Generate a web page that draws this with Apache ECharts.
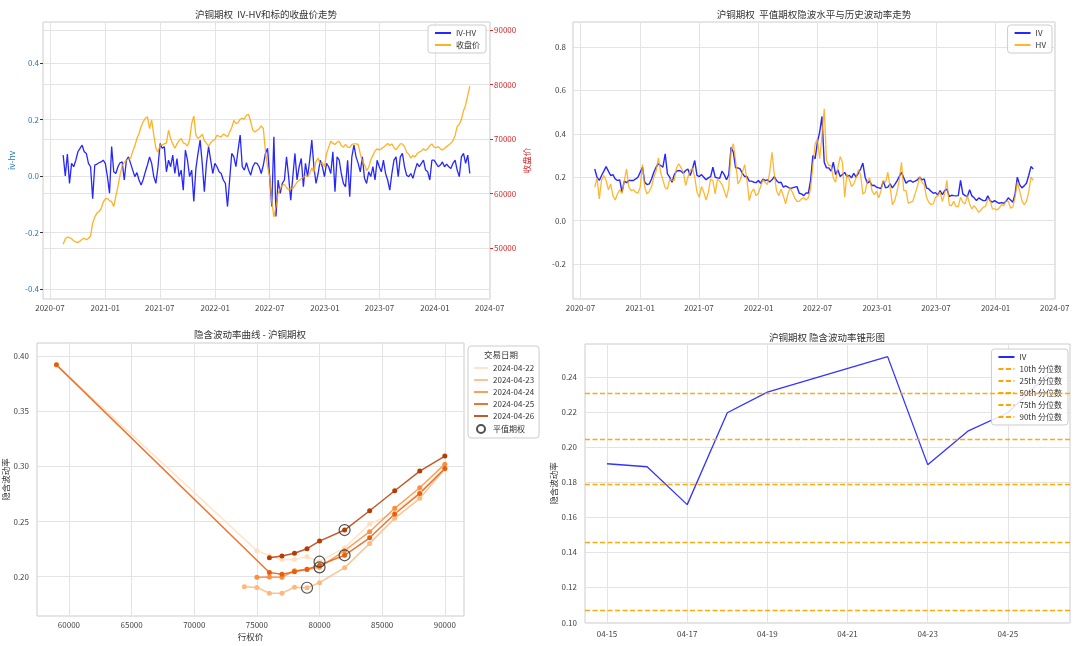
<!DOCTYPE html>
<html><head><meta charset="utf-8">
<script src="https://cdn.jsdelivr.net/npm/echarts@6/dist/echarts.min.js"></script>
<style>html,body{margin:0;padding:0;background:#fff}#c{width:1080px;height:646px}</style>
</head><body><div id="c"></div>
<script>
const FONT = '"Noto Sans CJK SC", "Noto Sans", sans-serif';

// ---- Top charts: weekly samples (Fridays), first sample 2020-08-14 ----
const weekStartUTC = Date.UTC(2020, 7, 14);
const ivHv = [
 0.074,0.0,0.078,-0.026,0.045,0.033,0.056,0.086,0.098,0.109,
 0.086,0.08,0.045,0.033,-0.08,0.039,0.042,0.047,0.05,0.056,
 0.045,-0.002,-0.061,0.104,0.015,0.009,0.033,0.047,0.05,-0.014,
 0.056,0.068,0.045,0.021,-0.002,0.012,-0.014,-0.032,-0.012,0.015,
 0.039,0.068,0.045,-0.002,-0.026,0.033,0.115,0.098,0.104,0.015,
 0.056,0.033,0.074,0.009,0.062,-0.002,0.021,-0.05,0.092,0.056,
 -0.002,0.021,-0.09,0.027,0.08,0.127,0.045,-0.055,0.045,0.104,
 0.056,0.009,0.045,0.033,0.015,0.009,-0.014,-0.026,-0.108,-0.014,
 0.08,0.068,0.033,0.092,0.145,0.033,0.021,0.047,0.021,0.003,
 0.033,0.047,0.045,0.033,0.009,0.039,0.08,0.098,-0.002,-0.108,
 0.139,-0.143,-0.014,-0.061,-0.026,-0.014,0.068,-0.002,-0.085,-0.002,
 0.08,-0.014,0.033,0.062,-0.038,0.045,-0.002,0.056,0.127,0.033,
 -0.026,0.009,0.056,0.033,-0.002,0.045,0.033,0.009,0.086,-0.055,
 0.068,0.056,0.009,-0.026,-0.038,0.056,-0.073,0.068,0.109,0.068,
 0.045,0.015,0.068,-0.008,-0.026,0.015,-0.002,0.033,-0.014,0.056,
 0.033,0.015,0.056,0.009,-0.014,-0.05,0.009,0.056,0.068,-0.002,
 0.068,0.08,0.033,0.003,-0.002,0.009,-0.008,0.021,0.045,0.033,
 0.045,0.056,0.021,0.015,-0.014,0.056,0.056,0.045,0.033,0.039,
 0.05,0.033,0.042,0.033,0.027,0.045,0.056,0.021,-0.002,0.068,
 0.08,0.045,0.074,0.009
];
const closePrice = [
 50700,51700,52000,51900,51700,51300,51100,51000,51300,51600,
 51800,51500,51800,52200,54600,55700,56400,56700,57200,58400,
 59000,59100,58700,58500,57600,59500,61300,63400,65100,65700,
 66100,66300,66500,67700,68700,70100,71000,72300,73200,73800,
 74100,71900,73500,70700,68300,67600,68900,68900,69100,69300,
 71600,70100,69100,68300,69100,69700,70100,69300,69100,68700,
 69800,72900,74200,70700,70100,70400,70900,69700,69200,68700,
 69300,69700,69900,70700,70500,70400,70900,70700,70400,71300,
 72100,73400,72800,73000,73600,73800,73700,74400,74500,73200,
 71600,71300,71600,71900,72400,71900,67700,64900,63100,58500,
 55700,57600,60000,60900,61500,61700,61100,60700,60900,60900,
 61500,62100,62400,62700,63000,63300,63100,63700,64700,63900,
 65900,66500,65400,65700,64900,67300,68500,69600,69200,69000,
 69400,69600,68800,68500,69000,68500,68400,69000,69100,69100,
 69000,67300,65900,65300,64200,64800,66200,67000,67800,68200,
 68000,68200,68500,68800,69200,68800,69100,68400,68000,68600,
 69100,69100,68600,67600,67200,66500,67000,66700,67300,67600,
 67800,68200,67900,68200,68800,69100,68500,68400,68600,68200,
 68000,68300,68600,68900,69200,69700,70600,72300,72700,73600,
 75200,76200,78000,79700
];
const ivLevel = [
 0.238,0.2,0.185,0.208,0.228,0.249,0.228,0.208,0.212,0.192,
 0.185,0.188,0.131,0.182,0.175,0.185,0.185,0.185,0.192,0.2,
 0.223,0.246,0.177,0.166,0.169,0.192,0.223,0.246,0.262,0.254,
 0.246,0.308,0.215,0.2,0.177,0.212,0.228,0.231,0.228,0.218,
 0.231,0.238,0.208,0.238,0.277,0.208,0.203,0.212,0.2,0.188,
 0.197,0.203,0.246,0.2,0.197,0.195,0.228,0.212,0.188,0.212,
 0.338,0.315,0.243,0.243,0.238,0.218,0.203,0.203,0.182,0.182,
 0.177,0.175,0.185,0.172,0.191,0.185,0.188,0.178,0.188,0.203,
 0.185,0.175,0.177,0.154,0.16,0.154,0.148,0.151,0.154,0.157,
 0.126,0.123,0.115,0.128,0.126,0.185,0.3,0.285,0.362,0.408,
 0.48,0.269,0.243,0.243,0.228,0.269,0.212,0.234,0.203,0.212,
 0.222,0.203,0.209,0.197,0.218,0.2,0.218,0.238,0.265,0.2,
 0.172,0.182,0.162,0.163,0.154,0.151,0.148,0.182,0.151,0.154,
 0.169,0.151,0.166,0.182,0.203,0.223,0.197,0.172,0.182,0.185,
 0.177,0.182,0.188,0.2,0.188,0.192,0.151,0.146,0.135,0.126,
 0.129,0.118,0.138,0.12,0.138,0.146,0.111,0.117,0.115,0.114,
 0.115,0.185,0.123,0.115,0.111,0.142,0.114,0.105,0.092,0.105,
 0.098,0.092,0.092,0.114,0.092,0.085,0.092,0.085,0.08,0.083,
 0.08,0.089,0.105,0.095,0.085,0.123,0.2,0.166,0.151,0.16,
 0.172,0.208,0.249,0.238
];
const hvLevel = [
 0.154,0.197,0.1,0.188,0.208,0.185,0.142,0.169,0.115,0.095,
 0.123,0.142,0.126,0.182,0.238,0.154,0.138,0.142,0.131,0.126,
 0.154,0.258,0.154,0.123,0.135,0.157,0.2,0.228,0.289,0.223,
 0.188,0.151,0.146,0.192,0.185,0.185,0.243,0.262,0.243,0.223,
 0.162,0.2,0.231,0.243,0.2,0.131,0.108,0.157,0.131,0.095,
 0.131,0.192,0.185,0.123,0.191,0.182,0.166,0.138,0.105,0.154,
 0.323,0.354,0.277,0.169,0.185,0.223,0.258,0.185,0.092,0.131,
 0.146,0.115,0.126,0.157,0.188,0.177,0.166,0.223,0.315,0.215,
 0.138,0.115,0.146,0.115,0.077,0.123,0.151,0.131,0.105,0.089,
 0.089,0.1,0.105,0.095,0.105,0.146,0.254,0.354,0.377,0.285,
 0.392,0.515,0.277,0.254,0.254,0.197,0.177,0.243,0.295,0.269,
 0.108,0.215,0.192,0.157,0.169,0.197,0.234,0.212,0.123,0.131,
 0.182,0.197,0.138,0.12,0.135,0.105,0.138,0.185,0.177,0.223,
 0.154,0.074,0.092,0.131,0.185,0.269,0.138,0.138,0.08,0.085,
 0.089,0.123,0.157,0.203,0.177,0.166,0.108,0.085,0.074,0.077,
 0.108,0.115,0.131,0.089,0.123,0.185,0.074,0.068,0.089,0.065,
 0.065,0.108,0.085,0.077,0.115,0.077,0.054,0.069,0.054,0.038,
 0.049,0.062,0.065,0.1,0.095,0.054,0.054,0.049,0.058,0.074,
 0.069,0.089,0.089,0.058,0.062,0.108,0.177,0.138,0.092,0.074,
 0.089,0.131,0.2,0.185
];
const dateTickLabels = ['2020-07','2021-01','2021-07','2022-01','2022-07','2023-01','2023-07','2024-01','2024-07'];
const ivHvTicks = [-0.4,-0.2,0.0,0.2,0.4];
const priceTicks = [50000,60000,70000,80000,90000];
const levelTicks = [-0.2,0.0,0.2,0.4,0.6,0.8];

// ---- Bottom-left: smile per trading day ----
const skewDates = ['2024-04-22','2024-04-23','2024-04-24','2024-04-25','2024-04-26'];
const strikes0422 = [59000,75000,76000,77000,78000,79000,80000,82000,84000,86000,88000,90000];
const iv0422      = [0.392,0.2236,0.219,0.2157,0.2157,0.218,0.2136,0.2263,0.2477,0.2585,0.2765,0.2985];
const strikes0423 = [74000,75000,76000,77000,78000,79000,80000,82000,84000,86000,88000,90000];
const iv0423      = [0.191,0.1903,0.185,0.185,0.1905,0.190,0.1946,0.2082,0.2302,0.2529,0.271,0.2976];
const strikes0424 = [75000,76000,77000,78000,79000,80000,82000,84000,86000,88000,90000];
const iv0424      = [0.1995,0.1998,0.1995,0.2055,0.2065,0.2085,0.2236,0.2408,0.262,0.2806,0.302];
const strikes0425 = [59000,76000,77000,78000,79000,80000,82000,84000,86000,88000,90000];
const iv0425      = [0.392,0.2038,0.2022,0.2045,0.2068,0.2105,0.2194,0.2353,0.2568,0.2755,0.2981];
const strikes0426 = [76000,77000,78000,79000,80000,82000,84000,86000,88000,90000];
const iv0426      = [0.2172,0.2187,0.2212,0.2254,0.2323,0.2423,0.2598,0.2779,0.2957,0.3093];
const atmStrikes = [80000,79000,80000,82000,82000];
const atmIV      = [0.2136,0.190,0.2085,0.2194,0.2423];
const strikeTicks = [60000,65000,70000,75000,80000,85000,90000];
const smileTicks = [0.20,0.25,0.30,0.35,0.40];

// ---- Bottom-right: IV cone ----
const coneDates = ['04-15','04-16','04-17','04-18','04-19','04-22','04-23','04-24','04-25','04-26'];
const coneIV    = [0.1905,0.1888,0.1672,0.2196,0.2314,0.2516,0.190,0.2091,0.2196,0.2415];
const pctNames  = ['10th 分位数','25th 分位数','50th 分位数','75th 分位数','90th 分位数'];
const pctValues = [0.1069,0.1459,0.1787,0.2044,0.231];
const coneTickLabels = ['04-15','04-17','04-19','04-21','04-23','04-25'];
const coneYTicks = [0.10,0.12,0.14,0.16,0.18,0.20,0.22,0.24];

// ---------------------------------------------------------------
const DAY = 86400000;
const weekX = ivHv.map((_, i) => weekStartUTC + i * 7 * DAY);
const monthTs = s => { const [y, m] = s.split('-').map(Number); return Date.UTC(y, m - 1, 1); };
const dateTicks = dateTickLabels.map(monthTs);
const fmtMonth = v => { const d = new Date(v); return d.getUTCFullYear() + '-' + String(d.getUTCMonth() + 1).padStart(2, '0'); };
const dayNum = s => Number(s.split('-')[1]);

const GRID = '#e3e3e3', BORDER = '#cccccc', LBL = '#444';
const lbl = (extra) => Object.assign({ fontSize: 8, color: LBL, fontFamily: FONT, margin: 5 }, extra || {});
const split = { show: true, lineStyle: { color: GRID, width: 1 } };

const smileColors = ['#fedfc0', '#fdb97d', '#fd8d3c', '#e95e0d', '#b73c02'];
const smileStrikes = [strikes0422, strikes0423, strikes0424, strikes0425, strikes0426];
const smileIV = [iv0422, iv0423, iv0424, iv0425, iv0426];

const legendBase = {
  orient: 'vertical', itemWidth: 16, itemHeight: 8, itemGap: 4,
  textStyle: { fontSize: 8, color: '#333', fontFamily: FONT },
  backgroundColor: 'rgba(255,255,255,0.85)', borderColor: '#cccccc', borderWidth: 1, borderRadius: 3,
  padding: [4, 6, 4, 6], selectedMode: false
};
const lineItem = n => ({ name: n, itemStyle: { opacity: 0 } });

const series = [
  { type: 'line', name: 'IV-HV', xAxisIndex: 0, yAxisIndex: 0, symbol: 'none', showSymbol: false,
    data: weekX.map((x, i) => [x, ivHv[i]]), lineStyle: { color: '#0000ff', width: 1.3, opacity: 0.85 }, itemStyle: { color: '#0000ff' } },
  { type: 'line', name: '收盘价', xAxisIndex: 0, yAxisIndex: 1, symbol: 'none', showSymbol: false,
    data: weekX.map((x, i) => [x, closePrice[i]]), lineStyle: { color: '#ffa500', width: 1.3, opacity: 0.85 }, itemStyle: { color: '#ffa500' } },
  { type: 'line', name: 'IV', xAxisIndex: 1, yAxisIndex: 2, symbol: 'none', showSymbol: false,
    data: weekX.map((x, i) => [x, ivLevel[i]]), lineStyle: { color: '#0000ff', width: 1.4, opacity: 0.85 }, itemStyle: { color: '#0000ff' } },
  { type: 'line', name: 'HV', xAxisIndex: 1, yAxisIndex: 2, symbol: 'none', showSymbol: false,
    data: weekX.map((x, i) => [x, hvLevel[i]]), lineStyle: { color: '#ffa500', width: 1.3, opacity: 0.8 }, itemStyle: { color: '#ffa500' } }
];
skewDates.forEach((d, k) => {
  series.push({ type: 'line', name: d, xAxisIndex: 2, yAxisIndex: 3, symbol: 'circle', symbolSize: 5, showSymbol: true,
    data: smileStrikes[k].map((s, i) => [s, smileIV[k][i]]),
    lineStyle: { color: smileColors[k], width: 1.5, opacity: 0.85 }, itemStyle: { color: smileColors[k] } });
});
series.push({ type: 'scatter', name: '平值期权', xAxisIndex: 2, yAxisIndex: 3, symbol: 'circle', symbolSize: 11, z: 5,
  data: atmStrikes.map((s, i) => [s, atmIV[i]]),
  itemStyle: { color: 'rgba(0,0,0,0)', borderColor: '#333', borderWidth: 1.2, opacity: 0.85 } });
series.push({ type: 'line', name: 'IV', xAxisIndex: 3, yAxisIndex: 4, symbol: 'none', showSymbol: false,
  data: coneDates.map((d, i) => [dayNum(d), coneIV[i]]), lineStyle: { color: '#0000ff', width: 1.3, opacity: 0.8 }, itemStyle: { color: '#0000ff' } });
pctNames.forEach((n, k) => {
  series.push({ type: 'line', name: n, xAxisIndex: 3, yAxisIndex: 4, data: [], symbol: 'none',
    lineStyle: { color: '#ffa500', width: 1.3, type: [5, 2.5] }, itemStyle: { color: '#ffa500' },
    markLine: { silent: true, symbol: 'none', precision: 5, label: { show: false }, animation: false,
      lineStyle: { color: '#ffa500', width: 1.3, type: [5, 2.5], opacity: 0.95 },
      data: [{ yAxis: pctValues[k] }] } });
});

const titleText = (t, x, y) => ({ type: 'text', x: x, y: y, z: 100,
  style: { text: t, font: '9.5px ' + FONT, fill: '#333', align: 'center', verticalAlign: 'middle' } });

const option = {
  animation: false,
  textStyle: { fontFamily: FONT },
  grid: [
    { left: 43, top: 22, width: 447, height: 277, show: true, borderColor: BORDER, borderWidth: 1 },
    { left: 573, top: 22, width: 482, height: 277, show: true, borderColor: BORDER, borderWidth: 1 },
    { left: 37, top: 343, width: 427, height: 273, show: true, borderColor: BORDER, borderWidth: 1 },
    { left: 585, top: 344, width: 485, height: 279, show: true, borderColor: BORDER, borderWidth: 1 }
  ],
  xAxis: [
    { type: 'value', gridIndex: 0, min: Date.UTC(2020, 5, 8), max: Date.UTC(2024, 6, 2),
      axisLine: { show: false }, axisTick: { show: false, customValues: dateTicks },
      axisLabel: lbl({ customValues: dateTicks, formatter: fmtMonth }), splitLine: split },
    { type: 'value', gridIndex: 1, min: Date.UTC(2020, 5, 8), max: Date.UTC(2024, 6, 2),
      axisLine: { show: false }, axisTick: { show: false, customValues: dateTicks },
      axisLabel: lbl({ customValues: dateTicks, formatter: fmtMonth }), splitLine: split },
    { type: 'value', gridIndex: 2, min: 57450, max: 91530,
      axisLine: { show: false }, axisTick: { show: false, customValues: strikeTicks },
      axisLabel: lbl({ customValues: strikeTicks, formatter: v => String(v) }), splitLine: split,
      name: '行权价', nameLocation: 'middle', nameGap: 17, nameTextStyle: { fontSize: 8.5, color: '#333', fontFamily: FONT } },
    { type: 'value', gridIndex: 3, min: 14.45, max: 26.55,
      axisLine: { show: false }, axisTick: { show: false, customValues: coneTickLabels.map(dayNum) },
      axisLabel: lbl({ customValues: coneTickLabels.map(dayNum), margin: 7, formatter: v => '04-' + String(Math.round(v)).padStart(2, '0') }),
      splitLine: split }
  ],
  yAxis: [
    { type: 'value', gridIndex: 0, min: -0.435, max: 0.545,
      axisLine: { show: false }, axisTick: { show: true, length: 3, customValues: ivHvTicks, lineStyle: { color: '#333' } },
      axisLabel: lbl({ customValues: ivHvTicks, color: '#1f77b4', margin: 4, formatter: v => v.toFixed(1) }), splitLine: split,
      name: 'iv-hv', nameLocation: 'middle', nameRotate: 90, nameGap: 27, nameTextStyle: { fontSize: 8.5, color: '#1f77b4', fontFamily: FONT } },
    { type: 'value', gridIndex: 0, position: 'right', min: 40642, max: 91468,
      axisLine: { show: false }, axisTick: { show: true, length: 3, customValues: priceTicks, lineStyle: { color: '#d62728' } },
      axisLabel: lbl({ customValues: priceTicks, color: '#d62728', margin: 4, formatter: v => String(v) }), splitLine: split,
      name: '收盘价', nameLocation: 'middle', nameRotate: 90, nameGap: 33, nameTextStyle: { fontSize: 8.5, color: '#d62728', fontFamily: FONT } },
    { type: 'value', gridIndex: 1, min: -0.361, max: 0.915,
      axisLine: { show: false }, axisTick: { show: false, customValues: levelTicks },
      axisLabel: lbl({ customValues: levelTicks, margin: 7, formatter: v => v.toFixed(1) }), splitLine: split },
    { type: 'value', gridIndex: 2, min: 0.1644, max: 0.4118,
      axisLine: { show: false }, axisTick: { show: false, customValues: smileTicks },
      axisLabel: lbl({ customValues: smileTicks, margin: 8, formatter: v => v.toFixed(2) }), splitLine: split,
      name: '隐含波动率', nameLocation: 'middle', nameRotate: 90, nameGap: 26, nameTextStyle: { fontSize: 8.5, color: '#333', fontFamily: FONT } },
    { type: 'value', gridIndex: 3, min: 0.0997, max: 0.2588,
      axisLine: { show: false }, axisTick: { show: false, customValues: coneYTicks },
      axisLabel: lbl({ customValues: coneYTicks, margin: 8, formatter: v => v.toFixed(2) }), splitLine: split,
      name: '隐含波动率', nameLocation: 'middle', nameRotate: 90, nameGap: 25, nameTextStyle: { fontSize: 8.5, color: '#333', fontFamily: FONT } }
  ],
  legend: [
    Object.assign({}, legendBase, { right: 594, top: 25, data: ['IV-HV', '收盘价'].map(lineItem) }),
    Object.assign({}, legendBase, { right: 28, top: 25, data: ['IV', 'HV'].map(lineItem) }),
    Object.assign({}, legendBase, { left: 468, top: 346, itemWidth: 14, padding: [18, 5, 4, 5],
      data: skewDates.map(lineItem).concat([{ name: '平值期权', icon: 'circle' }]) }),
    Object.assign({}, legendBase, { right: 12, top: 349, data: ['IV'].concat(pctNames).map(lineItem) })
  ],
  graphic: [
    titleText('沪铜期权  IV-HV和标的收盘价走势', 266, 14),
    titleText('沪铜期权  平值期权隐波水平与历史波动率走势', 814, 14),
    titleText('隐含波动率曲线 - 沪铜期权', 250, 334),
    titleText('沪铜期权 隐含波动率锥形图', 827, 337),
    { type: 'text', x: 501, y: 355, z: 100, style: { text: '交易日期', font: '8.5px ' + FONT, fill: '#333', align: 'center', verticalAlign: 'middle' } }
  ],
  series: series
};
const chart = echarts.init(document.getElementById('c'), null, { renderer: 'canvas' });
chart.setOption(option);
</script>
</body></html>
